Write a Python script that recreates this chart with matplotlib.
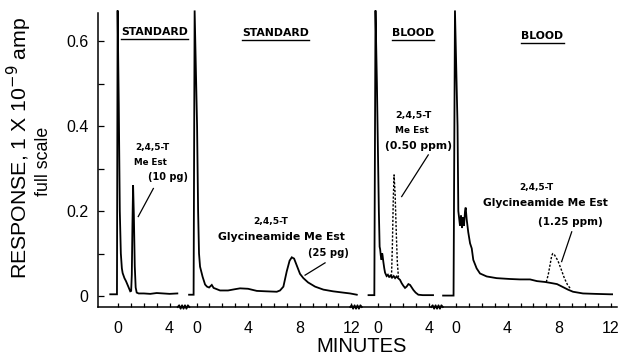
import numpy as np
import matplotlib
matplotlib.use("Agg")
import matplotlib.pyplot as plt

# ---------------- data ----------------
# panel x-offsets on the shared (broken) time axis, minutes
panel_offsets = [0.0, 6.09, 20.12, 26.2]
panel_titles = ["STANDARD", "STANDARD", "BLOOD", "BLOOD"]
panel_major_ticks = [[0, 4], [0, 4, 8, 12], [0, 4], [0, 4, 8, 12]]
panel_minor_max = [4, 12, 4, 12]

# Panel 1: standard, 2,4,5-T Me Est (10 pg)
p1_time = [-0.6, -0.08, -0.03, 0.06, 0.14, 0.22, 0.30, 0.36, 0.5, 0.62, 0.8, 0.95,
           1.02, 1.07, 1.12, 1.17, 1.23, 1.30, 1.37, 1.45, 1.6, 2.0, 2.5, 3.0, 3.5, 4.0, 4.6]
p1_resp = [0.004, 0.004, 0.672, 0.45, 0.2, 0.1, 0.065, 0.054, 0.042, 0.035, 0.022, 0.011,
           0.012, 0.05, 0.17, 0.261, 0.19, 0.07, 0.02, 0.008, 0.006, 0.006, 0.005, 0.007,
           0.006, 0.005, 0.006]

# Panel 2: standard, glycineamide Me Est (25 pg)
p2_time = [-0.58, -0.23, -0.15, 0.04, 0.12, 0.19, 0.27, 0.47, 0.66, 0.81, 0.97, 1.18,
           1.32, 1.82, 2.44, 2.98, 3.37, 3.99, 4.67, 5.39, 6.22, 6.47, 6.73, 6.99, 7.21,
           7.38, 7.56, 7.79, 8.02, 8.28, 8.64, 9.19, 9.83, 10.58, 11.36, 11.9, 12.42]
p2_resp = [0.003, 0.003, 0.672, 0.4, 0.2, 0.1, 0.069, 0.045, 0.027, 0.022, 0.02, 0.026,
           0.019, 0.013, 0.013, 0.016, 0.018, 0.017, 0.012, 0.011, 0.01, 0.013, 0.022,
           0.058, 0.083, 0.091, 0.088, 0.07, 0.052, 0.042, 0.032, 0.022, 0.015, 0.011,
           0.008, 0.006, 0.003]

# Panel 3: blood extract (solid) and 2,4,5-T Me Est 0.50 ppm (dashed)
p3_time = [-0.7, -0.25, -0.16, -0.05, 0.1, 0.16, 0.2, 0.25, 0.31, 0.36, 0.39, 0.45,
           0.52, 0.58, 0.7, 0.8, 0.9, 1.0, 1.12, 1.25, 1.36, 1.48, 1.59, 1.74, 1.87, 2.0,
           2.13, 2.25, 2.39, 2.52, 2.65, 2.78, 2.95, 3.16, 3.5, 4.3]
p3_resp = [0.002, 0.002, 0.672, 0.5, 0.2, 0.116, 0.11, 0.095, 0.085, 0.1, 0.095, 0.08,
           0.065, 0.055, 0.047, 0.05, 0.044, 0.048, 0.043, 0.047, 0.042, 0.046, 0.042,
           0.038, 0.03, 0.024, 0.019, 0.022, 0.028, 0.026, 0.02, 0.014, 0.008, 0.003,
           0.002, 0.002]
p3_dash_time = [1.08, 1.15, 1.22, 1.28, 1.36, 1.45, 1.53, 1.62]
p3_dash_resp = [0.046, 0.12, 0.23, 0.285, 0.24, 0.15, 0.08, 0.044]

# Panel 4: blood extract (solid) and glycineamide Me Est 1.25 ppm (dashed)
p4_time = [-1.0, -0.19, -0.08, 0.12, 0.18, 0.31, 0.39, 0.47, 0.54, 0.62, 0.7, 0.75,
           0.83, 0.95, 1.09, 1.22, 1.34, 1.6, 1.86, 2.38, 3.15, 4.19, 4.96, 5.74, 6.28,
           6.9, 7.29, 7.83, 8.29, 8.68, 9.07, 9.84, 10.78, 11.94, 12.1]
p4_resp = [0.001, 0.001, 0.672, 0.4, 0.2, 0.165, 0.19, 0.16, 0.185, 0.165, 0.2, 0.208,
           0.18, 0.15, 0.124, 0.112, 0.085, 0.065, 0.053, 0.046, 0.042, 0.04, 0.039,
           0.039, 0.035, 0.033, 0.031, 0.028, 0.021, 0.015, 0.01, 0.006, 0.005, 0.004,
           0.004]
p4_dash_time = [7.0, 7.15, 7.3, 7.42, 7.5, 7.65, 7.9, 8.15, 8.4, 8.65, 8.9]
p4_dash_resp = [0.033, 0.05, 0.075, 0.095, 0.1, 0.096, 0.083, 0.063, 0.042, 0.026, 0.016]

# axis-break positions (panel index, minutes after that panel's zero)
break_panel = [0, 1, 2]
break_time = [5.08, 12.36, 4.61]

y_major = [0, 0.2, 0.4, 0.6]
y_major_labels = ["0", "0.2", "0.4", "0.6"]
y_minor = [0.1, 0.3, 0.5]

# ---------------- figure ----------------
W, H = 622, 356
fig = plt.figure(figsize=(W / 100, H / 100), dpi=100)
ax = fig.add_axes([98 / W, 1 - 307 / H, (617 - 98) / W, (307 - 13) / H])
ax.set_xlim(-1.55, 38.68)
ax.set_ylim(-0.0259, 0.666)

axis_font = "Liberation Sans"


def label(x, y, s, size):
    ax.text(x, y, s, ha="center", va="center", fontweight="bold", fontsize=size,
            color="black", family="DejaVu Sans")


traces = [(p1_time, p1_resp), (p2_time, p2_resp), (p3_time, p3_resp), (p4_time, p4_resp)]
for off, (t, r) in zip(panel_offsets, traces):
    ax.plot(np.asarray(t) + off, r, color="black", lw=1.3, clip_on=False,
            solid_joinstyle="miter")

dashes = [(2, p3_dash_time, p3_dash_resp), (3, p4_dash_time, p4_dash_resp)]
for idx, t, r in dashes:
    ax.plot(np.asarray(t) + panel_offsets[idx], r, color="black", lw=1.0,
            linestyle=(0, (1.6, 1.2)))

# ticks
major_pos, major_lab, minor_pos = [], [], []
for off, mj, mx in zip(panel_offsets, panel_major_ticks, panel_minor_max):
    for m in mj:
        major_pos.append(off + m)
        major_lab.append(str(m))
    minor_pos.extend([off + m for m in range(0, mx + 1)])
ax.set_xticks(major_pos, major_lab)
ax.set_xticks(minor_pos, minor=True)
ax.set_yticks(y_major, y_major_labels)
ax.set_yticks(y_minor, minor=True)
ax.tick_params(axis="both", which="both", direction="in", color="black", width=0.9)
ax.tick_params(axis="x", which="both", length=3, pad=10, labelsize=11.5)
ax.tick_params(axis="y", which="both", length=4, pad=7, labelsize=11.5)
for lab in ax.get_xticklabels() + ax.get_yticklabels():
    lab.set_fontfamily(axis_font)

for s in ["top", "right"]:
    ax.spines[s].set_visible(False)
for s in ["left", "bottom"]:
    ax.spines[s].set_linewidth(1.1)

# axis break squiggles
y0 = ax.get_ylim()[0]
for p, bt in zip(break_panel, break_time):
    c = panel_offsets[p] + bt
    xs = np.linspace(c - 0.45, c + 0.45, 9)
    ys = y0 + 0.004 * np.array([0, 1, -1, 1, -1, 1, -1, 1, 0])
    ax.plot(xs, ys, color="black", lw=1.3, clip_on=False)

# panel titles with underline
title_pos = [(2.83, 0.621), (6.12, 0.619), (2.77, 0.618), (6.71, 0.613)]
fig.canvas.draw()
rend = fig.canvas.get_renderer()
for off, title, (tx, ty) in zip(panel_offsets, panel_titles, title_pos):
    txt = ax.text(off + tx, ty, title, ha="center", va="center",
                  fontsize=7.8, fontweight="bold", family="DejaVu Sans")
    bb = txt.get_window_extent(rend)
    inv = ax.transData.inverted()
    (x0d, yb), (x1d, _) = inv.transform([[bb.x0, bb.y0 - 2], [bb.x1, bb.y0 - 2]])
    ax.plot([x0d, x1d], [yb, yb], color="black", lw=1.0, clip_on=False)

# peak annotations
o = panel_offsets
label(o[0] + 2.64, 0.349, "2,4,5-T", 6.4)
label(o[0] + 2.48, 0.313, "Me Est", 6.3)
label(o[0] + 3.84, 0.279, "(10 pg)", 7.0)
ax.plot([o[0] + 2.74, o[0] + 1.57], [0.253, 0.187], color="black", lw=0.9)

label(o[1] + 5.75, 0.175, "2,4,5-T", 6.6)
label(o[1] + 6.6, 0.14, "Glycineamide Me Est", 7.8)
label(o[1] + 10.2, 0.102, "(25 pg)", 7.2)
ax.plot([o[1] + 9.96, o[1] + 8.41], [0.078, 0.049], color="black", lw=0.9)

label(o[2] + 2.77, 0.424, "2,4,5-T", 6.8)
label(o[2] + 2.64, 0.389, "Me Est", 6.4)
label(o[2] + 3.14, 0.353, "(0.50 ppm)", 7.8)
ax.plot([o[2] + 3.93, o[2] + 1.87], [0.332, 0.234], color="black", lw=0.9)

label(o[3] + 6.26, 0.256, "2,4,5-T", 6.5)
label(o[3] + 6.96, 0.218, "Glycineamide Me Est", 7.7)
label(o[3] + 8.84, 0.173, "(1.25 ppm)", 7.5)
ax.plot([o[3] + 8.97, o[3] + 8.19], [0.151, 0.081], color="black", lw=0.9)

# axis labels
fig.text(19 / W, 1 - 148 / H, "RESPONSE, 1 X 10$^{-9}$ amp", rotation=90,
         ha="center", va="center", fontsize=15.3, family=axis_font)
fig.text(43 / W, 1 - 161 / H, "full scale", rotation=90,
         ha="center", va="center", fontsize=12.8, family=axis_font)
fig.text(362 / W, 1 - 347 / H, "MINUTES", ha="center", va="center",
         fontsize=14.5, family=axis_font)

fig.savefig("out.png", dpi=100)
